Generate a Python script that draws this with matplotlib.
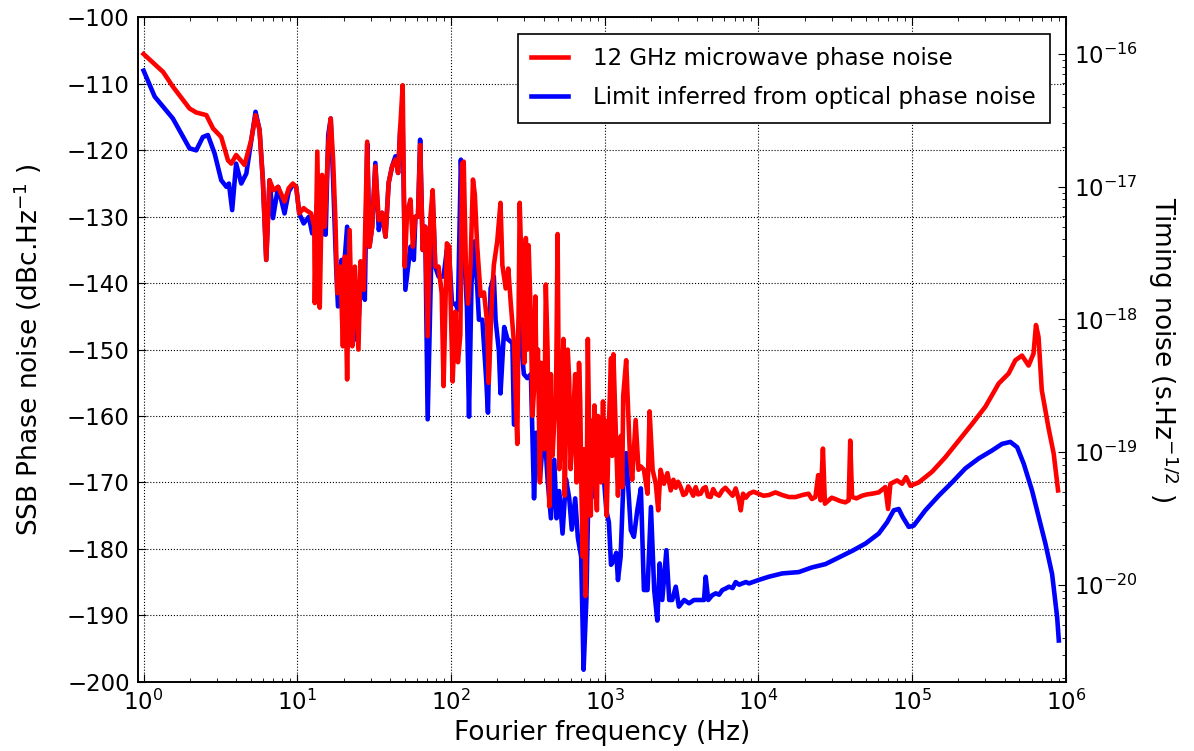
import numpy as np
import matplotlib.pyplot as plt

plt.rcParams['font.family'] = ['DejaVu Sans']
plt.rcParams['mathtext.fontset'] = 'dejavusans'
plt.rcParams['mathtext.default'] = 'regular'

# carrier frequency used for the timing-noise axis
f0 = 12e9

label_red = '12 GHz microwave phase noise'
label_blue = 'Limit inferred from optical phase noise'

# 12 GHz microwave phase noise (Hz, dBc/Hz)
freq_red = [1.0, 1.15, 1.34, 1.55, 1.99, 2.2, 2.56, 2.83, 3.2, 3.54, 3.72, 4.0, 4.54,
            5.02, 5.35, 5.68, 5.97, 6.28, 6.6, 7.0, 7.5, 8.26, 8.8, 9.35, 9.84, 10.3,
            11.0, 11.4, 12.3, 12.9, 13.0, 13.5, 14.0, 14.5, 15.1, 15.9, 16.5, 17.1, 17.7,
            18.2, 19.1, 19.8, 20.4, 21.1, 21.9, 22.8, 23.7, 25.0, 25.8, 27.1, 28.5, 29.5,
            30.7, 32.2, 33.9, 35.6, 37.5, 39.3, 41.4, 43.5, 45.3, 46.8, 48.5, 50.0, 51.8,
            54.5, 56.5, 58.7, 61.0, 63.0, 65.5, 68.0, 70.5, 73.5, 76.0, 79.0, 83.0, 87.0,
            89.5, 94.0, 97.5, 102.5, 106.8, 111, 115, 118, 121, 125, 129, 134, 139, 143,
            148, 156, 164, 172, 176, 184, 190, 200, 210, 216, 227, 236, 245, 257, 270,
            280,
            292, 300, 307, 314, 320, 331, 339, 347, 354, 360, 368, 379, 386, 394, 404,
            414, 425, 436, 447, 458, 470, 482, 494, 507, 520, 530, 539, 550, 560, 575,
            588, 600, 617, 630, 643, 656, 669, 681, 693, 707, 721, 735, 750, 764, 777,
            797, 812, 829, 843, 858, 875, 890, 905, 925, 950, 975, 990, 1010, 1030, 1050,
            1070, 1100, 1120, 1140, 1165, 1190, 1220, 1250, 1275, 1300,
            1320, 1380, 1460, 1510, 1590,
            1660, 1720, 1800, 1900, 1960, 2050, 2150, 2230, 2310, 2430, 2560, 2690, 2800,
            2900, 3000, 3120, 3250, 3370, 3500, 3630, 3770, 3910, 4050, 4210, 4380, 4540,
            4700, 4890, 5080, 5280, 5550, 5830, 6100, 6440, 6800, 7120, 7480, 7680, 7950,
            8300, 8700, 9300, 10000, 10800, 11700, 12900, 14300, 15800, 17500, 19300,
            21200, 22300, 23500, 24500, 25400, 26300, 27100, 28700, 30000, 31700, 34000,
            36800, 38700, 39600, 40700, 43500, 47300, 51000, 54900, 60700, 67000, 69800,
            72300, 79900, 86100, 91400, 97500, 110500, 134900, 164800, 201200, 245700,
            300000, 366300, 425000, 470000, 519000, 573000, 617000, 640000, 665000,
            698000, 771000, 835000, 891000]
dbc_red = [-105.5, -106.8, -108.2, -110.4, -113.7, -114.3, -114.7, -116.7, -118.0, -121.5,
           -122.0, -120.7, -122.2, -118.4, -114.7, -116.9, -124.5, -136.5, -124.5, -126.0,
           -125.5, -127.7, -125.7, -125.0, -125.5, -129.5, -128.7, -129.0, -129.5, -131.5,
           -143, -120.2, -143.7, -123.7, -131.5, -119, -115.2, -121.4, -130.5, -141.5,
           -137.5, -149.5, -136, -154.5, -132, -149.5, -137.5, -150, -136.7, -141, -118.7,
           -134.5, -131.5, -122.4, -130.5, -129.4, -133, -124.9, -122.4, -121.4, -123.4,
           -116.4, -110.2, -137.5, -129.4, -127.4, -134.5, -130, -130, -119.2, -135,
           -131.5, -148, -130, -126, -137.5, -137.5, -141.5, -155.5, -134, -134.5, -154.8,
           -144.3, -151.9, -147.8, -122, -121.7, -137.3, -143.1, -137.3, -124.4, -126.7,
           -134.3, -141.9, -141.4, -146, -155, -143, -137.3, -133.7, -127.9, -137.3,
           -140.8, -137.8, -143.1, -149, -164.2, -127.9,
           -143.1, -152, -133.2, -150, -134.3, -145.5, -160, -156, -142, -154.8, -150,
           -170, -152, -157.8, -165, -140.2, -150, -173.6, -153.7, -166, -160.7, -158,
           -132.6, -168, -163.6, -155, -148.4, -172, -160.7, -150, -154.8, -168, -163.6,
           -158, -153.7, -170, -166.6, -152, -157.8, -172, -181.2, -165, -187.1, -172,
           -148.4, -166.6, -175, -160.7, -168, -158.4, -170, -174.2, -160, -164.2, -170,
           -157.8, -166, -160.7, -175, -167.2, -160, -151.3, -166, -150.7, -158, -164.8,
           -172, -166, -163, -170.7,
           -157, -151.6, -166.1, -169.6, -160.6, -168.1, -167.6,
           -168.1, -171.7, -159.3, -168.1, -170.2, -174.2, -168.1, -170.2, -168.6, -171.2,
           -169.6, -170.8, -169.9, -170.7, -171.9, -171.7, -170.6, -171.2, -172.0, -170.7,
           -171.8, -171.7, -170.9, -170.7, -172.1, -172.2, -171.0, -171.7, -172.0, -171.2,
           -170.8, -171.4, -172.0, -170.9, -172.7, -174.2, -171.7, -172.3, -171.7, -171.4,
           -171.7, -172.0, -171.9, -171.5, -171.9, -172.2, -172.2, -171.9, -171.7, -172.5,
           -172.2, -168.9, -172.7, -164.9, -173.2, -172.7, -172.3, -172.5, -172.8, -173,
           -172.7, -163.7, -172.2, -172.4, -172, -171.8, -171.7, -171.5, -170.7, -174,
           -170.2, -169.7, -170.2, -169.2, -170.5, -170, -168.4, -166.2, -163.7, -161.2,
           -158.6, -155.1, -153.6, -151.6, -150.9, -152.4, -150.6, -146.3, -148.1, -156.1,
           -161.7, -165.7, -171.2]

# limit inferred from optical phase noise (Hz, dBc/Hz)
freq_blue = [1.0, 1.18, 1.55, 1.99, 2.2, 2.43, 2.62, 2.9, 3.2, 3.46, 3.59, 3.77, 4.0, 4.32,
             4.66, 5.35, 5.68, 5.97, 6.28, 6.6, 6.95, 7.5, 8.26, 8.8, 9.35, 9.84, 10.3,
             11.0, 11.9, 12.5, 13.1, 13.8, 14.5, 15.3, 15.9, 16.5, 17.1, 17.9, 18.4, 19.4,
             20.1, 21.1, 22.2, 23.3, 24.2, 25.1, 26.1, 27.5, 28.5, 29.5, 30.7, 32.2, 33.9,
             35.6, 37.5, 39.3, 41.4, 43.5, 45.3, 46.8, 48.5, 50.5, 54.5, 57.3, 58.7, 61.0,
             63.0, 65.5, 68.0, 70.5, 73.5, 76.0, 79.0, 83.0, 89.5, 94.0, 97.5, 101.5,
             106.8, 111, 116, 121, 127, 131, 136, 143, 152, 160, 170, 174, 181, 190, 195,
             205, 210, 222, 233, 251, 257, 277, 298, 314, 331, 347, 360, 379, 404, 425,
             447, 470, 486, 506, 532, 560, 588, 611, 643, 669, 703, 729, 760, 791, 818,
             846, 880, 925, 985, 1025, 1065, 1100, 1140, 1190, 1220, 1270, 1320, 1380,
             1480, 1550, 1630, 1720, 1800, 1900, 2000, 2100, 2200, 2280, 2370, 2520, 2630,
             2750, 2900, 3040, 3290, 3540, 3810, 4110, 4430, 4540, 4720, 5000, 5280, 5550,
             5830, 6100, 6440, 6800, 7120, 7500, 7870, 8300, 8700, 10000, 11700, 14300,
             18300, 22300, 27300, 33400, 40800, 49800, 60700, 68800, 76000, 81900, 86900,
             95200, 102500, 122000, 149000, 182000, 222000, 271000, 331000, 385000, 436000,
             483000, 533000, 603000, 667000, 737000, 815000, 879000, 901000]
dbc_blue = [-108, -111.9, -115.2, -119.7, -120, -118, -117.7, -120.5, -124.5, -125.5, -125,
            -129, -122, -125, -123.5, -114.2, -116.9, -124.5, -136.5, -124.5, -130.2,
            -125.5, -129.5, -126.2, -125.2, -125.5, -129.5, -131, -130, -132.5, -132.5,
            -123.9, -132.5, -132.7, -117.7, -115.2, -124.4, -137.5, -143.5, -136.5, -138,
            -131.5, -145, -140.5, -148.5, -145.5, -137.5, -142.5, -119, -134.5, -131.5,
            -121.9, -132, -129.4, -133, -124.9, -122.4, -120.9, -123.4, -116.4, -116,
            -141, -134.5, -136.5, -130, -130, -118.4, -135, -131.5, -160.5, -141.5, -127,
            -137.5, -139, -139, -135, -136, -143.1, -143.1, -144, -121.4, -134, -143.7,
            -160.1, -140, -133.7, -145.5, -145.5, -155, -159.5, -140.8, -139, -145.5,
            -150.2, -156.6, -146.6, -148.4, -149, -161.3, -145.5, -153.7, -154.3, -153.7,
            -172.4, -162.5, -169.5, -161.3, -169.5, -175.4, -166.6, -175.4, -171.3, -177.7,
            -169.5, -172.4, -177.1, -172.4, -178.3, -181.2, -198.2, -187.7, -166.6, -172.4,
            -162.5, -168.3, -166.6, -168.9, -174.2, -176, -182.4, -181.8, -180.6, -184.7,
            -181.2, -170.7, -165.6, -177.2, -178.2, -174.2, -170.9, -186.2, -186.2, -173.7,
            -186.2, -190.8, -182.2, -187.7, -180.2, -187.7, -187.7, -185.7, -188.7, -187.7,
            -188.2, -187.7, -187.7, -187.7, -184.2, -187.7, -187.0, -186.7, -186.9, -186.2,
            -186.0, -185.7, -185.9, -185, -185.4, -185.2, -185.0, -185.2, -184.7, -184.2,
            -183.7, -183.5, -182.8, -182.3, -181.3, -180.3, -179.2, -177.7, -176, -174.2,
            -174, -175.2, -176.7, -176.5, -174.2, -172, -170, -167.9, -166.4, -165.2, -164.2,
            -163.9, -164.7, -167.2, -171.2, -175.2, -179.2, -183.8, -190.3, -193.8]


def to_timing(L):
    return np.sqrt(2 * 10 ** (np.asarray(L, dtype=float) / 10.)) / (2 * np.pi * f0)


fig = plt.figure(figsize=(11.94, 7.51), dpi=100)
ax = fig.add_axes([0.1156, 0.0923, 0.777, 0.8844])

l_blue, = ax.semilogx(freq_blue, dbc_blue, color='b', lw=3.3)
l_red, = ax.semilogx(freq_red, dbc_red, color='r', lw=3.3)

ax.set_xlim(0.92, 1e6)
ax.set_ylim(-200, -100)
ax.set_yticks(np.arange(-200, -99, 10))
ax.grid(True, which='major', color='k', linestyle=':', linewidth=0.8)
ax.tick_params(which='both', direction='in', top=True, right=False, labelsize=16.5)
ax.tick_params(which='major', length=6, pad=6)
ax.tick_params(which='minor', length=3)

ax.set_xlabel('Fourier frequency (Hz)', fontsize=19)
ax.set_ylabel('SSB Phase noise (dBc.Hz$^{-1}$ )', fontsize=19)
ax.xaxis.set_label_coords(0.5, -0.058)
ax.yaxis.set_label_coords(-0.101, 0.5)

ax2 = ax.twinx()
ax2.set_yscale('log')
ax2.set_ylim(to_timing(-200), to_timing(-100))
ax2.tick_params(which='both', direction='in', labelsize=16.5)
ax2.tick_params(which='major', length=6, pad=6)
ax2.tick_params(which='minor', length=3)
ax2.set_ylabel('Timing noise (s.Hz$^{-1/2}$ )', fontsize=19, rotation=270, va='center')
ax2.yaxis.set_label_coords(1.105, 0.5)

for a in (ax, ax2):
    for s in a.spines.values():
        s.set_linewidth(1.2)

leg = ax.legend([l_red, l_blue], [label_red, label_blue], loc='upper right',
                fontsize=16.5, fancybox=False, edgecolor='k', framealpha=1,
                handlelength=1.6, handletextpad=1.1, labelspacing=0.7,
                borderpad=0.6, borderaxespad=0.7)
leg.get_frame().set_linewidth(1.2)

fig.savefig('out.png', dpi=100)
